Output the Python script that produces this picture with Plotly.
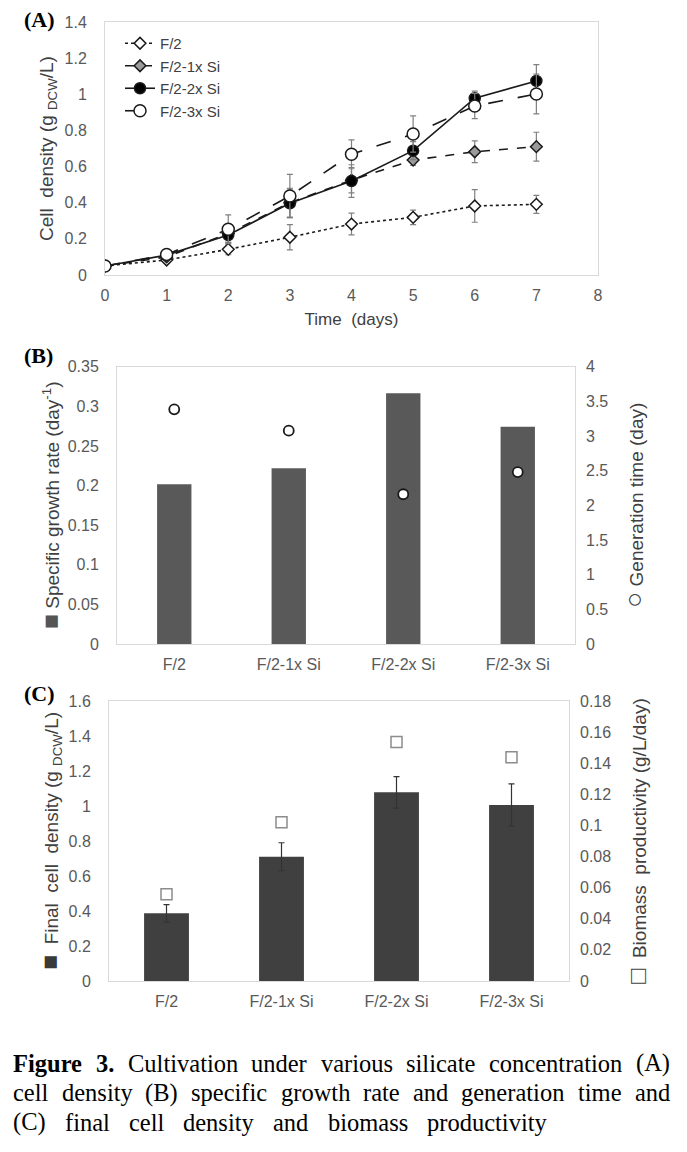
import plotly.graph_objects as go

# ---------------- data ----------------
days = [0, 1, 2, 3, 4, 5, 6, 7]
series_names = ["F/2", "F/2-1x Si", "F/2-2x Si", "F/2-3x Si"]
cd_f2 = [0.05, 0.083, 0.142, 0.209, 0.282, 0.319, 0.382, 0.391]
cd_f2_err = [0.0, 0.01, 0.03, 0.07, 0.06, 0.04, 0.09, 0.05]
cd_1x = [0.05, 0.10, 0.23, 0.40, 0.525, 0.636, 0.682, 0.71]
cd_1x_err = [0.0, 0.01, 0.05, 0.08, 0.07, 0.03, 0.06, 0.08]
cd_2x = [0.05, 0.11, 0.221, 0.397, 0.52, 0.688, 0.978, 1.074]
cd_2x_err = [0.0, 0.01, 0.04, 0.08, 0.09, 0.05, 0.04, 0.09]
cd_3x = [0.05, 0.114, 0.253, 0.437, 0.668, 0.78, 0.935, 1.002]
cd_3x_err = [0.0, 0.01, 0.08, 0.12, 0.08, 0.10, 0.07, 0.11]

categories = ["F/2", "F/2-1x Si", "F/2-2x Si", "F/2-3x Si"]
growth_rate = [0.2016, 0.2217, 0.3164, 0.2743]
generation_time = [3.385, 3.077, 2.16, 2.48]

final_density = [0.387, 0.71, 1.078, 1.006]
final_density_err = [0.05, 0.08, 0.09, 0.12]
productivity = [0.0557, 0.102, 0.1536, 0.1438]

caption_lines = [
    "<b>Figure 3.</b> Cultivation under various silicate concentration (A)",
    "cell density (B) specific growth rate and generation time and",
    "(C) final cell density and biomass productivity",
]

# ---------------- layout helpers ----------------
W, H = 687, 1152
OFF = 8  # page body margin of the browser
def px_x(x):
    return (x - OFF) / W
def px_y(y):
    return 1 - (y - OFF) / H

SANS = "Liberation Sans, Arial, sans-serif"
SERIF = "Liberation Serif, Times New Roman, serif"
TICKFONT = dict(family=SANS, size=16, color="#595959")
CATFONT = dict(family=SANS, size=16, color="#595959")
TITLEFONT = dict(family=SANS, size=19, color="#404040")
XTITLEFONT = dict(family=SANS, size=17, color="#404040")
BOX = "#d9d9d9"

# Times / Liberation Serif advance widths (1/1000 em) used to justify the caption
TIMES_REG = {"a": 444, "b": 500, "c": 444, "d": 500, "e": 444, "f": 333, "g": 500, "h": 500,
             "i": 278, "l": 278, "m": 778, "n": 500, "o": 500, "p": 500, "r": 333, "s": 389,
             "t": 278, "u": 500, "v": 500, "w": 722, "y": 500, "(": 333, ")": 333, "A": 722,
             "B": 667, "C": 667, ".": 250, "3": 500, "F": 556}
TIMES_BOLD = {"F": 611, "i": 278, "g": 500, "u": 556, "r": 444, "e": 444, "3": 500, ".": 250}

def word_width(word, bold, size):
    table = TIMES_BOLD if bold else TIMES_REG
    return sum(table.get(ch, 500) for ch in word) * size / 1000.0

fig = go.Figure()

# ---------- Panel A ----------
styles = [
    dict(dash="dot", symbol="diamond", fill="white", size=9, lw=1.6),
    dict(dash="dash", symbol="diamond", fill="#9a9a9a", size=9, lw=1.6),
    dict(dash="solid", symbol="circle", fill="black", size=11, lw=1.6),
    dict(dash="longdash", symbol="circle", fill="white", size=12, lw=1.6),
]
vals = [cd_f2, cd_1x, cd_2x, cd_3x]
errs = [cd_f2_err, cd_1x_err, cd_2x_err, cd_3x_err]
for name, v, e, s in zip(series_names, vals, errs, styles):
    fig.add_trace(go.Scatter(
        x=days, y=v, name=name, mode="lines+markers",
        line=dict(color="#1a1a1a", width=s["lw"], dash=s["dash"]),
        marker=dict(symbol=s["symbol"], size=s["size"], color=s["fill"],
                    line=dict(color="#1a1a1a", width=1.5)),
        error_y=dict(type="data", array=e, visible=True, color="#808080",
                     thickness=1.2, width=3),
        xaxis="x", yaxis="y",
    ))

# ---------- Panel B ----------
fig.add_trace(go.Bar(
    x=categories, y=growth_rate, marker=dict(color="#595959", line=dict(width=0)),
    width=0.3, xaxis="x2", yaxis="y2", showlegend=False,
))
fig.add_trace(go.Scatter(
    x=categories, y=generation_time, mode="markers",
    marker=dict(symbol="circle", size=10, color="white", line=dict(color="#1a1a1a", width=1.8)),
    xaxis="x2", yaxis="y3", showlegend=False,
))

# ---------- Panel C ----------
fig.add_trace(go.Bar(
    x=categories, y=final_density, marker=dict(color="#404040", line=dict(width=0)),
    width=0.39, xaxis="x3", yaxis="y4", showlegend=False,
    error_y=dict(type="data", array=final_density_err, visible=True, color="#333333",
                 thickness=1.2, width=3),
))
fig.add_trace(go.Scatter(
    x=categories, y=productivity, mode="markers",
    marker=dict(symbol="square-open", size=11, color="#8c8c8c", line=dict(width=1.5)),
    xaxis="x3", yaxis="y5", showlegend=False,
))

common_axis = dict(showgrid=False, zeroline=False, showline=True, mirror=True,
                   linecolor=BOX, linewidth=1, tickfont=TICKFONT, ticks="", automargin=False)
right_axis = dict(showgrid=False, zeroline=False, showline=False, tickfont=TICKFONT,
                  ticks="", automargin=False, ticklabelstandoff=10)

SQ = "<span style='font-size:25px;color:#555555'>■</span>"
SQD = "<span style='font-size:25px;color:#3a3a3a'>■</span>"
CI = "<span style='font-size:27px'>○</span>"
SO = "<span style='font-size:25px'>□</span>"

fig.update_layout(
    width=W, height=H, margin=dict(l=0, r=0, t=0, b=0, autoexpand=False),
    paper_bgcolor="white", plot_bgcolor="white",
    font=dict(family=SANS),
    showlegend=True,
    legend=dict(x=px_x(120), y=px_y(27), xanchor="left", yanchor="top",
                bgcolor="rgba(0,0,0,0)", font=dict(size=15, color="#404040", family=SANS),
                tracegroupgap=0, itemwidth=30),
    xaxis=dict(domain=[px_x(105), px_x(598)], range=[0, 8], dtick=1, anchor="y",
               title=dict(text="Time  (days)", font=XTITLEFONT, standoff=9),
               ticklabelstandoff=6, **common_axis),
    yaxis=dict(domain=[px_y(275), px_y(22)], range=[0, 1.4], dtick=0.2, anchor="x",
               title=dict(text="Cell  density (g <sub>DCW</sub>/L)", font=TITLEFONT, standoff=5),
               ticklabelstandoff=14, **common_axis),

    xaxis2=dict(domain=[px_x(117), px_x(575)], anchor="y2", type="category",
                ticklabelstandoff=6, **{**common_axis, "tickfont": CATFONT}),
    yaxis2=dict(domain=[px_y(644), px_y(366.7)], range=[0, 0.35], dtick=0.05, anchor="x2",
                title=dict(text=SQ + " Specific growth rate (day<sup>-1</sup>)",
                           font=TITLEFONT, standoff=3),
                ticklabelstandoff=14, **common_axis),
    yaxis3=dict(overlaying="y2", side="right", anchor="x2", range=[0, 4], dtick=0.5,
                title=dict(text=CI + " Generation time (day)", font=TITLEFONT, standoff=22),
                **right_axis),

    xaxis3=dict(domain=[px_x(109), px_x(569)], anchor="y4", type="category",
                ticklabelstandoff=6, **{**common_axis, "tickfont": CATFONT}),
    yaxis4=dict(domain=[px_y(981), px_y(701)], range=[0, 1.6], dtick=0.2, anchor="x3",
                title=dict(text=SQD + "  Final  cell  density (g <sub>DCW</sub>/L)",
                           font=TITLEFONT, standoff=4),
                ticklabelstandoff=14, **common_axis),
    yaxis5=dict(overlaying="y4", side="right", anchor="x3", range=[0, 0.18], dtick=0.02,
                tickformat="~g",
                title=dict(text=SO + "  Biomass  productivity (g/L/day)", font=TITLEFONT, standoff=22),
                **right_axis),
)

# panel letters
for label, y in [("(A)", 20), ("(B)", 356), ("(C)", 693)]:
    fig.add_annotation(text=f"<b>{label}</b>", x=px_x(22), y=px_y(y), xref="paper", yref="paper",
                       xanchor="left", yanchor="middle", showarrow=False,
                       font=dict(family=SERIF, size=22, color="black"))

# caption: justified lines, words placed one by one
CAP_SIZE = 24.5
CAP_LEFT = 11
CAP_RIGHTS = [668, 668, 545]
for i, (line, right) in enumerate(zip(caption_lines, CAP_RIGHTS)):
    words = line.replace("<b>", "").replace("</b>", "").split(" ")
    bold_words = {"Figure", "3."} if line.startswith("<b>") else set()
    widths = [word_width(w, w in bold_words, CAP_SIZE) for w in words]
    gap = (right - CAP_LEFT - sum(widths)) / (len(words) - 1)
    x = CAP_LEFT
    for w, wd in zip(words, widths):
        fig.add_annotation(text=f"<b>{w}</b>" if w in bold_words else w,
                           x=px_x(x), y=px_y(1063 + 29.5 * i), xref="paper", yref="paper",
                           xanchor="left", yanchor="middle", showarrow=False,
                           font=dict(family=SERIF, size=CAP_SIZE, color="black"))
        x += wd + gap

fig.write_html("out.html")
